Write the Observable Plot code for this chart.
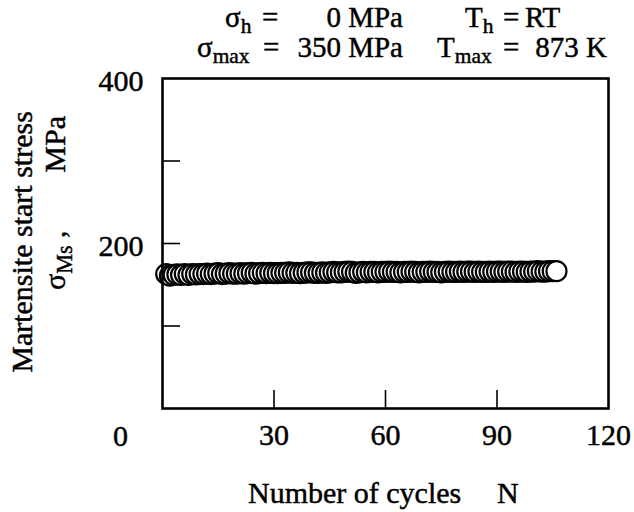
<!DOCTYPE html>
<html>
<head>
<meta charset="utf-8">
<script src="https://cdn.jsdelivr.net/npm/d3@7"></script>
<script src="https://cdn.jsdelivr.net/npm/@observablehq/plot@0.6"></script>
<style>
  html, body { margin: 0; padding: 0; background: white; }
  #chart { width: 634px; height: 512px; }
  #chart svg text { stroke: black; stroke-width: 0.45px; }
</style>
</head>
<body>
<div id="chart"></div>
<script>
// ---- data ----
const cycles = [
  1,2,3,4,5,6,7,8,9,10,11,12,13,14,15,16,17,18,19,20,
  21,22,23,24,25,26,27,28,29,30,31,32,33,34,35,36,37,38,39,40,
  41,42,43,44,45,46,47,48,49,50,51,52,53,54,55,56,57,58,59,60,
  61,62,63,64,65,66,67,68,69,70,71,72,73,74,75,76,77,78,79,80,
  81,82,83,84,85,86,87,88,89,90,91,92,93,94,95,96,97,98,99,100,
  101,102,103,104,105,106
];
const stressMs = [
  163,161,162,162.5,162,163,162,163,162.5,163,
  163,163.5,163,163.5,164,163,163.5,164,163.5,163.5,
  164,163.5,164,164.5,163.5,164,164.5,164,164.5,164,
  164,164.5,164.5,165,164.5,164.5,164,164.5,165,165,
  164.5,164.5,165,164.5,165,165.5,165,165,165.5,166,
  165.5,164.5,165,165.5,165,165.5,165.5,165,165.5,165.5,
  166,165.5,165.5,165,165.5,165.5,166,165.5,165,165.5,
  165.5,166,165.5,165.5,165,165.5,166,165.5,165.5,166,
  165.5,166,166,165.5,166,165.5,165.5,166,165.5,166,
  166,165.5,166,166,165.5,166,166,165.5,166,166,
  166.5,166,166,166.5,166.5,166.5
];
const xTickLabels = [30, 60, 90, 120];
const xInnerTicks = [30, 60, 90];
const yTickLabels = [200, 400];
const yInnerTicks = [100, 200, 300];
const originLabel = ["0"];

const data = cycles.map((n, i) => ({n, s: stressMs[i]}));

const W = 634, H = 512;
const mL = 162, mR = 26, mT = 78, mB = 104;
const plotW = W - mL - mR, plotH = H - mT - mB;
const tickLen = 18;
const serif = "'Liberation Serif', 'Times New Roman', serif";

const chart = Plot.plot({
  width: W,
  height: H,
  marginLeft: mL,
  marginRight: mR,
  marginTop: mT,
  marginBottom: mB,
  x: {domain: [0, 120]},
  y: {domain: [0, 400]},
  style: {fontFamily: serif, fontSize: "30px", background: "white", color: "black", overflow: "visible"},
  marks: [
    Plot.ruleX(xInnerTicks, {x: d => d, insetTop: plotH - tickLen, stroke: "black", strokeWidth: 1.6}),
    Plot.ruleY(yInnerTicks, {y: d => d, insetRight: plotW - tickLen, stroke: "black", strokeWidth: 1.6}),
    Plot.axisX(xTickLabels, {tickSize: 0, tickPadding: 15, fontSize: 30, label: null}),
    Plot.axisY(yTickLabels, {tickSize: 0, tickPadding: 19, fontSize: 30, label: null, dy: 3}),
    Plot.text(originLabel, {x: () => 0, y: () => 0, text: d => d, dx: -42, dy: 28, fontSize: 30, textAnchor: "middle", lineAnchor: "middle"}),
    Plot.dot(data, {x: "n", y: "s", r: 10, stroke: "black", fill: "white", strokeWidth: 2.2}),
    Plot.frame({stroke: "black", strokeWidth: 2.6})
  ]
});

document.getElementById("chart").appendChild(chart);

// ---- annotation text with subscripts ----
const svg = d3.select(chart);
function addText(x, y, main, sub, opts = {}) {
  const t = svg.append("text")
    .attr("font-family", serif)
    .attr("font-size", opts.size || 29)
    .attr("fill", "black")
    .attr("text-anchor", opts.anchor || "start")
    .style("white-space", "pre");
  if (opts.transform) t.attr("transform", opts.transform);
  else t.attr("x", x).attr("y", y);
  t.append("tspan").text(main);
  if (sub) t.append("tspan").attr("font-size", "0.74em").attr("dy", "0.3em").text(sub);
  if (opts.after) t.append("tspan").attr("dy", "-0.22em").text(opts.after);
  return t;
}

// title line 1
addText(225, 27, "σ", "h");
addText(262, 27, "=");
addText(403, 27, "0 MPa", null, {anchor: "end"});
addText(465, 27, "T", "h");
addText(503, 27, "=");
addText(525, 27, "RT");
// title line 2
addText(197, 57, "σ", "max");
addText(263, 57, "=");
addText(403, 57, "350 MPa", null, {anchor: "end"});
addText(437, 57, "T", "max");
addText(503, 57, "=");
addText(607, 57, "873 K", null, {anchor: "end"});

// x-axis label
addText(248, 503, "Number of cycles", null, {size: 30});
addText(497, 503, "N", null, {size: 30});

// y-axis label
addText(0, 0, "Martensite start stress", null, {size: 30, anchor: "middle", transform: "translate(32,242) rotate(-90)"});
addText(0, 0, "σ", "Ms", {size: 30, after: " ,", transform: "translate(65,290) rotate(-90)"});
addText(0, 0, "MPa", null, {size: 30, anchor: "end", transform: "translate(65,116) rotate(-90)"});
</script>
</body>
</html>
